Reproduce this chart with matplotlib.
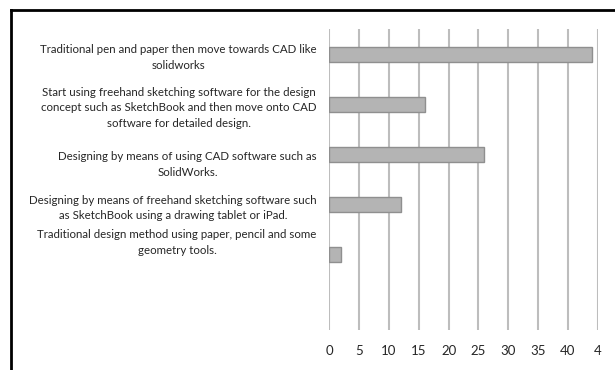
import matplotlib
matplotlib.use("Agg")
import matplotlib.pyplot as plt
from matplotlib.lines import Line2D
from matplotlib.transforms import ScaledTranslation

plt.rcParams['font.family'] = ['Lato', 'DejaVu Sans']

categories = [
    "Traditional pen and paper then move towards CAD like\nsolidworks",
    "Start using freehand sketching software for the design\nconcept such as SketchBook and then move onto CAD\nsoftware for detailed design.",
    "Designing by means of using CAD software such as\nSolidWorks.",
    "Designing by means of freehand sketching software such\nas SketchBook using a drawing tablet or iPad.",
    "Traditional design method using paper, pencil and some\ngeometry tools.",
]
values = [44, 16, 26, 12, 2]
xticks = [0, 5, 10, 15, 20, 25, 30, 35, 40, 45]
xticklabels = ["0", "5", "10", "15", "20", "25", "30", "35", "40", "4"]

fig = plt.figure(figsize=(6.15, 3.7), dpi=100)
ax = fig.add_axes([329.3/615, 1-330/370, (597.7-329.3)/615, (330-29)/370])

ypos = list(range(len(categories)))
ax.barh(ypos, values, height=0.3, color='#b4b4b4', edgecolor='#8f8f8f', linewidth=1.0, zorder=3)
ax.set_ylim(len(categories) + 0.5, -0.5)
ax.set_xlim(0, 45)
ax.set_xticks(xticks)
ax.set_xticklabels(xticklabels)
ax.set_yticks(ypos)
ax.set_yticklabels(categories, multialignment='center', linespacing=1.5)
ax.tick_params(axis='y', length=0, labelsize=8.3, colors='#262626', pad=9)
ax.tick_params(axis='x', length=0, labelsize=9.5, colors='#262626', pad=11)
for s in ax.spines.values():
    s.set_visible(False)
ax.grid(axis='x', color='#bdbdbd', linewidth=1.5, zorder=0)
ax.grid(axis='y', visible=False)

offsets_px = [0, 0, 7, 0, -15.5]
for lab, dy in zip(ax.get_yticklabels(), offsets_px):
    lab.set_transform(lab.get_transform() + ScaledTranslation(0, -dy/100, fig.dpi_scale_trans))

fig.add_artist(Line2D([11/615, 11/615], [0, 1-10/370], transform=fig.transFigure, color='black', linewidth=2))
fig.add_artist(Line2D([11/615, 1], [1-10/370, 1-10/370], transform=fig.transFigure, color='black', linewidth=2))

fig.savefig('out.png', dpi=100)
